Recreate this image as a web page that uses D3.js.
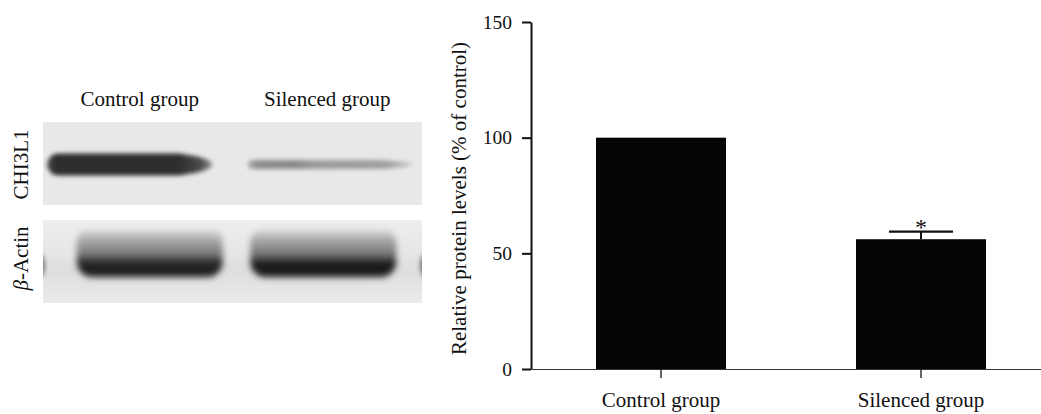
<!DOCTYPE html>
<html>
<head>
<meta charset="utf-8">
<script src="https://cdn.jsdelivr.net/npm/d3@7"></script>
<style>
	body { margin: 0; background: #fff; }
	svg { display: block; font-family: "Liberation Serif", "Times New Roman", serif; }
</style>
</head>
<body>
<svg id="fig" width="1041" height="414"></svg>
<script>
/* Datos */
const groups = ["Control group", "Silenced group"];
const relLevels = [100, 56.1];
const relErr = [0, 3.3];
const sigMarks = ["", "*"];
const yTicks = [0, 50, 100, 150];
const blotRows = ["CHI3L1", "β-Actin"];
const chi3l1Signal = [0.87, 0.45];
const actinSignal = [0.96, 0.99];

/* Layout (no son datos) */
const BLOT = { x0: 43, x1: 422, y0: 122, y1: 303 };
const CHI = { w: 165, h: 22, dy: 1, shift: [-8, 3], hScale: [1, 0.4] };
const ACT = { w: 146, dy: 6, shift: [12, -4] };

const svg = d3.select("#fig");
const defs = svg.append("defs");

function blurFilter(id, sd) {
	defs.append("filter").attr("id", id)
		.attr("x", "-30%").attr("y", "-100%").attr("width", "160%").attr("height", "300%")
		.append("feGaussianBlur").attr("stdDeviation", sd);
}
blurFilter("b2", 2.2);
blurFilter("b3", 3.2);

const shade = d3.interpolateRgb("#e6e6e6", "#141414");

/* Western blot */
const lane = d3.scalePoint().domain(groups).range([BLOT.x0, BLOT.x1]).padding(0.5);
const row = d3.scaleBand().domain(blotRows).range([BLOT.y0, BLOT.y1]).paddingInner(0.153);

// fondo del panel de actina: algo más oscuro a la altura de la banda
const gPanel = defs.append("linearGradient").attr("id", "panelAct").attr("x1", 0).attr("y1", 0).attr("x2", 0).attr("y2", 1);
[[0, "#eeeeee"], [0.4, "#e6e6e6"], [0.6, "#dedede"], [0.8, "#e4e4e4"], [1, "#ebebeb"]]
	.forEach(([o, c]) => gPanel.append("stop").attr("offset", o).attr("stop-color", c));

svg.selectAll("rect.panel")
	.data(blotRows)
	.join("rect")
	.attr("class", "panel")
	.attr("x", BLOT.x0)
	.attr("y", d => row(d))
	.attr("width", BLOT.x1 - BLOT.x0)
	.attr("height", row.bandwidth())
	.attr("fill", (d, i) => i === 0 ? "#e8e8e8" : "url(#panelAct)");

const clip = defs.append("clipPath").attr("id", "blotClip");
blotRows.forEach(r => clip.append("rect").attr("x", BLOT.x0).attr("y", row(r)).attr("width", BLOT.x1 - BLOT.x0).attr("height", row.bandwidth()));
const gBlot = svg.append("g").attr("clip-path", "url(#blotClip)");

// CHI3L1: perfil horizontal de cada banda
const chiProfiles = [
	[[0, 0.85], [0.05, 1], [0.8, 1], [0.93, 0.85], [1, 0.45]],
	[[0, 0.6], [0.06, 0.95], [0.3, 1], [0.4, 0.8], [0.85, 0.75], [1, 0.3]]
];
groups.forEach((g, i) => {
	const id = "chiGrad" + i;
	const grad = defs.append("linearGradient").attr("id", id);
	chiProfiles[i].forEach(([o, k]) => grad.append("stop").attr("offset", o).attr("stop-color", shade(chi3l1Signal[i] * k)));
	const cy = row("CHI3L1") + row.bandwidth() / 2 + CHI.dy;
	const h = CHI.h * CHI.hScale[i];
	const x0 = lane(g) + CHI.shift[i] - CHI.w / 2;
	// extremo derecho afinado
	const p = d3.path();
	p.moveTo(x0 + h / 2, cy - h / 2);
	p.lineTo(x0 + CHI.w * 0.8, cy - h / 2);
	p.quadraticCurveTo(x0 + CHI.w, cy - h * 0.3, x0 + CHI.w, cy);
	p.quadraticCurveTo(x0 + CHI.w, cy + h * 0.3, x0 + CHI.w * 0.8, cy + h / 2);
	p.lineTo(x0 + h / 2, cy + h / 2);
	p.arc(x0 + h / 2, cy, h / 2, Math.PI / 2, Math.PI * 1.5);
	p.closePath();
	gBlot.append("path")
		.attr("d", p.toString())
		.attr("fill", `url(#${id})`)
		.attr("filter", "url(#b2)");
});

// β-Actin: halo gris hacia arriba que termina en un núcleo oscuro
const actStops = [[0, 0.12, 0], [0.15, 0.3, 0.7], [0.38, 0.42, 1], [0.52, 0.52, 1], [0.6, 0.72, 1], [0.67, 0.93, 1], [0.92, 1, 1], [1, 0.8, 1]];
groups.forEach((g, i) => {
	const id = "actGrad" + i;
	const s = actinSignal[i];
	const grad = defs.append("linearGradient").attr("id", id).attr("x1", 0).attr("y1", 0).attr("x2", 0).attr("y2", 1);
	actStops.forEach(([o, k, a]) => grad.append("stop").attr("offset", o).attr("stop-color", shade(s * k)).attr("stop-opacity", a));
	const cx = lane(g) + ACT.shift[i];
	const cy = row("β-Actin") + row.bandwidth() / 2 + ACT.dy;
	gBlot.append("rect")
		.attr("x", cx - ACT.w / 2)
		.attr("y", cy - 40)
		.attr("width", ACT.w)
		.attr("height", 50)
		.attr("rx", 16)
		.attr("fill", `url(#${id})`)
		.attr("filter", "url(#b3)");
});
// bordes de carriles vecinos
[BLOT.x0 - 4, BLOT.x1 + 4].forEach(xx => {
	gBlot.append("ellipse").attr("cx", xx).attr("cy", row("β-Actin") + row.bandwidth() / 2 + ACT.dy - 2)
		.attr("rx", 6).attr("ry", 12).attr("fill", "#777").attr("filter", "url(#b2)");
});

// rótulos del blot
svg.selectAll("text.lane")
	.data(groups)
	.join("text")
	.attr("class", "lane")
	.attr("x", (d, i) => lane(d) + (i === 0 ? 2 : 0))
	.attr("y", 106)
	.attr("text-anchor", "middle")
	.attr("font-size", 21)
	.attr("fill", "#111")
	.text(d => d);

svg.selectAll("text.rowlab")
	.data(blotRows)
	.join("text")
	.attr("class", "rowlab")
	.attr("transform", d => `translate(28,${row(d) + row.bandwidth() / 2 + (d === "CHI3L1" ? 1 : -3)}) rotate(-90)`)
	.attr("text-anchor", "middle")
	.attr("font-size", 21)
	.attr("fill", "#111")
	.each(function (d) {
		const t = d3.select(this);
		if (d.startsWith("β")) {
			t.append("tspan").attr("font-style", "italic").text("β");
			t.append("tspan").text(d.slice(1));
		} else t.text(d);
	});

/* Gráfico de barras */
const x = d3.scaleBand().domain(groups).range([531, 1051]).paddingInner(0.5).paddingOuter(0.25);
const y = d3.scaleLinear().domain([0, 150]).range([369, 22]);

const gx = svg.append("g")
	.attr("transform", `translate(0,${y(0)})`)
	.call(d3.axisBottom(x).tickSize(9).tickSizeOuter(0).tickPadding(14));
gx.attr("font-family", null);
gx.select(".domain").attr("stroke", "#333").attr("stroke-width", 1.2);
gx.selectAll(".tick line").attr("stroke", "#111").attr("stroke-width", 1.3);
gx.selectAll(".tick text").attr("font-size", 21).attr("fill", "#111");

svg.selectAll("rect.bar")
	.data(groups)
	.join("rect")
	.attr("class", "bar")
	.attr("x", d => x(d))
	.attr("y", (d, i) => y(relLevels[i]))
	.attr("width", x.bandwidth())
	.attr("height", (d, i) => y(0) - y(relLevels[i]))
	.attr("fill", "#050505");

// barras de error (solo hacia arriba)
groups.forEach((g, i) => {
	if (!relErr[i]) return;
	const cx = x(g) + x.bandwidth() / 2;
	const top = y(relLevels[i] + relErr[i]);
	svg.append("line").attr("x1", cx).attr("x2", cx).attr("y1", y(relLevels[i])).attr("y2", top)
		.attr("stroke", "#111").attr("stroke-width", 2);
	svg.append("line").attr("x1", cx - 32).attr("x2", cx + 32).attr("y1", top).attr("y2", top)
		.attr("stroke", "#111").attr("stroke-width", 2.2);
	if (sigMarks[i]) {
		svg.append("text").attr("x", cx).attr("y", top + 3)
			.attr("text-anchor", "middle").attr("font-size", 24).attr("fill", "#111")
			.text(sigMarks[i]);
	}
});

const gy = svg.append("g")
	.attr("transform", `translate(531,0)`)
	.call(d3.axisLeft(y).tickValues(yTicks).tickSize(9).tickSizeOuter(0).tickPadding(10));
gy.attr("font-family", null);
gy.select(".domain").attr("stroke", "#111").attr("stroke-width", 2);
gy.selectAll(".tick line").attr("stroke", "#111").attr("stroke-width", 2);
gy.selectAll(".tick text").attr("font-size", 19.5).attr("fill", "#111");

svg.append("text")
	.attr("transform", `translate(459,${(y(0) + y(150)) / 2 + 3}) rotate(-90)`)
	.attr("text-anchor", "middle")
	.attr("dominant-baseline", "central")
	.attr("font-size", 21)
	.attr("fill", "#111")
	.text("Relative protein levels (% of control)");
</script>
</body>
</html>
